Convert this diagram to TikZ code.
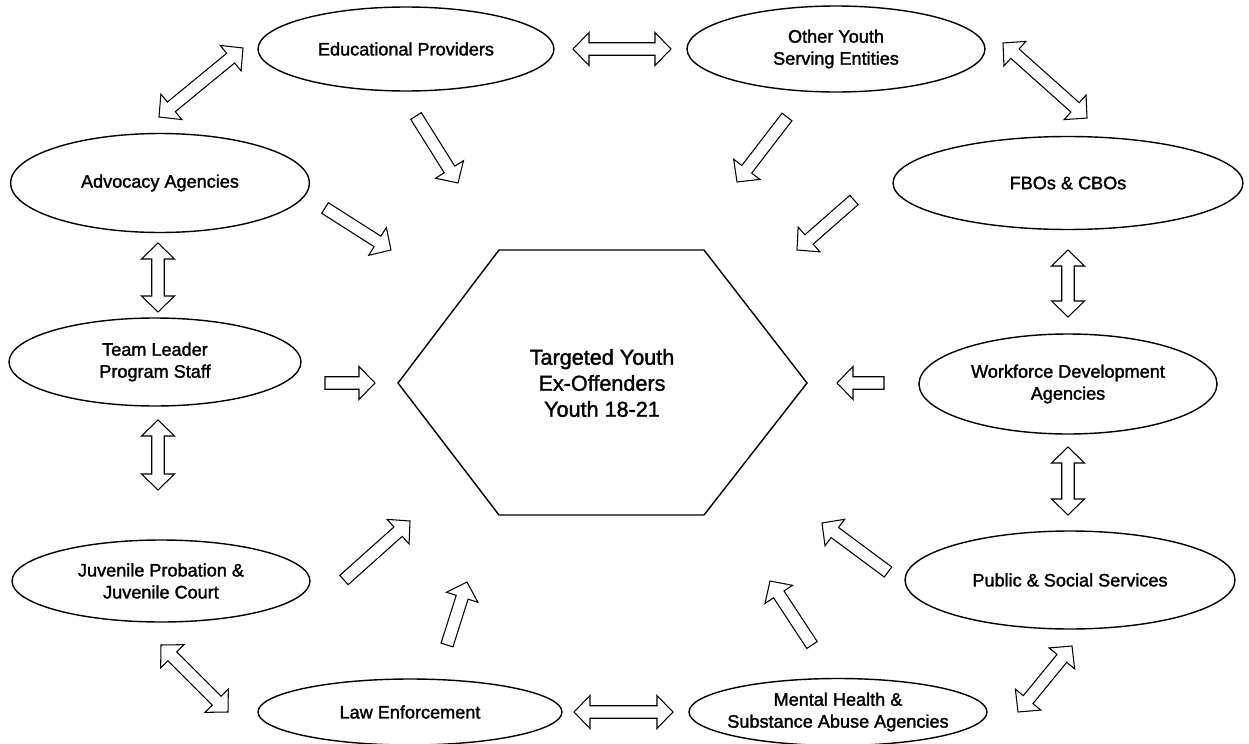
\documentclass[tikz,border=0pt]{standalone}
\usepackage{fontspec}
\setmainfont{Liberation Sans}
\newfontfamily\scanfont[FakeBold=1.6]{Liberation Sans}
\usetikzlibrary{shapes.geometric,calc}
\newcommand{\arS}{0.125cm}
\newcommand{\arH}{0.33cm}
\newcommand{\arL}{0.32cm}
\newcommand{\singlearrow}[2]{%
  \coordinate (hb) at ($(#2)!\arL!(#1)$);
  \draw[barrow] ($(#1)!\arS!90:(#2)$) -- ($(hb)!\arS!-90:(#1)$) -- ($(hb)!\arH!-90:(#1)$) -- (#2) -- ($(hb)!\arH!90:(#1)$) -- ($(hb)!\arS!90:(#1)$) -- ($(#1)!\arS!-90:(#2)$) -- cycle;}
\newcommand{\doublearrow}[2]{%
  \coordinate (ha) at ($(#1)!\arL!(#2)$);
  \coordinate (hb) at ($(#2)!\arL!(#1)$);
  \draw[barrow] (#1) -- ($(ha)!\arH!90:(#2)$) -- ($(ha)!\arS!90:(#2)$) -- ($(hb)!\arS!-90:(#1)$) -- ($(hb)!\arH!-90:(#1)$) -- (#2) -- ($(hb)!\arH!90:(#1)$) -- ($(hb)!\arS!90:(#1)$) -- ($(ha)!\arS!-90:(#2)$) -- ($(ha)!\arH!-90:(#2)$) -- cycle;}
\tikzset{
  ell/.style={draw, ellipse, line width=0.8pt, inner sep=0pt},
  lbl/.style={align=center, inner sep=0pt, font=\scanfont\fontsize{10.3}{12.5}\selectfont},
  barrow/.style={draw, line width=0.6pt, line join=miter, fill=white},
  hexline/.style={draw, line width=0.8pt, line join=miter},
}
\begin{document}
\begin{tikzpicture}[x=0.02cm,y=-0.02cm]
\useasboundingbox[fill=white] (0,0) rectangle (1249,744);
% ellipses
\node[ell, minimum width=5.92cm, minimum height=1.68cm, label={[lbl,name=eduT]center:Educational Providers}] (edu) at (406,49) {};
\node[ell, minimum width=5.96cm, minimum height=1.72cm, label={[lbl,name=othT]center:Other Youth\\Serving Entities}] (oth) at (836,49) {};
\node[ell, minimum width=5.98cm, minimum height=1.98cm, label={[lbl,name=advT]center:Advocacy Agencies}] (adv) at (160,183) {};
\node[ell, minimum width=7.0cm, minimum height=1.86cm, label={[lbl,name=fboT]center:FBOs \& CBOs}] (fbo) at (1068,183) {};
\node[ell, minimum width=5.84cm, minimum height=1.76cm, label={[lbl,name=teaT]center:Team Leader\\Program Staff}] (tea) at (155,362) {};
\node[ell, minimum width=5.96cm, minimum height=2.0cm, label={[lbl,name=worT]center:Workforce Development\\Agencies}] (wor) at (1068,384) {};
\node[ell, minimum width=5.96cm, minimum height=1.64cm, label={[lbl,name=juvT]center:Juvenile Probation \&\\Juvenile Court}] (juv) at (161,581) {};
\node[ell, minimum width=6.6cm, minimum height=1.96cm, label={[lbl,name=pubT]center:Public \& Social Services}] (pub) at (1070,580) {};
\node[ell, minimum width=6.08cm, minimum height=1.32cm, label={[lbl,name=lawT]center:Law Enforcement}] (law) at (410,712) {};
\node[ell, minimum width=5.96cm, minimum height=1.34cm, label={[lbl,name=menT]center:Mental Health \&\\Substance Abuse Agencies}] (men) at (838,712) {};
% hexagon
\coordinate (h1) at (398,383);
\coordinate (h2) at (499,250);
\coordinate (h3) at (704,250);
\coordinate (h4) at (807,383);
\coordinate (h5) at (704,515);
\coordinate (h6) at (499,515);
\draw[hexline] (h1) -- (h2) -- (h3) -- (h4) -- (h5) -- (h6) -- cycle;
\node[align=center, inner sep=0pt, font=\scanfont\fontsize{12.3}{14.8}\selectfont] (hex) at (602,383) {Targeted Youth\\Ex-Offenders\\Youth 18-21};
% single arrow end points
\coordinate (s1a) at (416,116); \coordinate (s1b) at (458,183);
\coordinate (s2a) at (787,117); \coordinate (s2b) at (737,182);
\coordinate (s3a) at (325,208); \coordinate (s3b) at (391,250);
\coordinate (s4a) at (854,200); \coordinate (s4b) at (797,250);
\coordinate (s5a) at (325,383); \coordinate (s5b) at (375,383);
\coordinate (s6a) at (884,383); \coordinate (s6b) at (837,383);
\coordinate (s7a) at (344,580); \coordinate (s7b) at (410,521);
\coordinate (s8a) at (447,645); \coordinate (s8b) at (467,582);
\coordinate (s9a) at (812,645); \coordinate (s9b) at (770,581);
\coordinate (s10a) at (888,572); \coordinate (s10b) at (822,523);
\singlearrow{s1a}{s1b}
\singlearrow{s2a}{s2b}
\singlearrow{s3a}{s3b}
\singlearrow{s4a}{s4b}
\singlearrow{s5a}{s5b}
\singlearrow{s6a}{s6b}
\singlearrow{s7a}{s7b}
\singlearrow{s8a}{s8b}
\singlearrow{s9a}{s9b}
\singlearrow{s10a}{s10b}
% double arrow end points
\coordinate (d1a) at (159,117); \coordinate (d1b) at (243,48);
\coordinate (d2a) at (573,49); \coordinate (d2b) at (671,49);
\coordinate (d3a) at (1003,43); \coordinate (d3b) at (1087,118);
\coordinate (d4a) at (158,243); \coordinate (d4b) at (158,312);
\coordinate (d5a) at (1068,250); \coordinate (d5b) at (1068,317);
\coordinate (d6a) at (158,420); \coordinate (d6b) at (158,490);
\coordinate (d7a) at (1068,447); \coordinate (d7b) at (1068,515);
\coordinate (d8a) at (161,645); \coordinate (d8b) at (228,712);
\coordinate (d9a) at (574,712); \coordinate (d9b) at (673,712);
\coordinate (d10a) at (1018,712); \coordinate (d10b) at (1072,646);
\doublearrow{d1a}{d1b}
\doublearrow{d2a}{d2b}
\doublearrow{d3a}{d3b}
\doublearrow{d4a}{d4b}
\doublearrow{d5a}{d5b}
\doublearrow{d6a}{d6b}
\doublearrow{d7a}{d7b}
\doublearrow{d8a}{d8b}
\doublearrow{d9a}{d9b}
\doublearrow{d10a}{d10b}
\end{tikzpicture}
\end{document}
